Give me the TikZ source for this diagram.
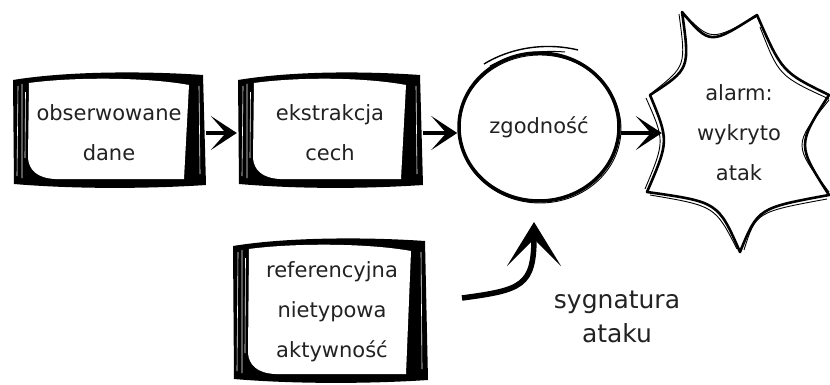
\documentclass[tikz,border=0pt]{standalone}
\usepackage{fontspec}
\setmainfont{DejaVu Sans}
\usetikzlibrary{arrows.meta,shapes.geometric}
\definecolor{txt}{HTML}{222222}
\newcommand{\sketchbox}[4]{%
  \fill[black] (#1,#2+8) .. controls (#1+55,#2-1) and (#3-60,#2-1) .. (#3-2,#2+3)
     -- (#3+1,#4-3) .. controls (#3-60,#4+1) and (#1+60,#4+1) .. (#1+1,#4-4) -- cycle;
  \fill[white] (#1+16,#2+11) .. controls (#1+60,#2+5) and (#3-60,#2+5) .. (#3-16,#2+13)
     -- (#3-21,#4-9) -- (#1+42,#4-9) .. controls (#1+24,#4-10) and (#1+16,#4-18) .. (#1+15,#4-30) -- cycle;
  \draw[white, line width=0.6pt] (#1+5,#2+14) -- (#1+4,#4-12) (#1+9,#2+12) -- (#1+9,#4-10)
     (#1+12.5,#2+20) -- (#1+12,#4-30) (#3-6,#2+14) -- (#3-5,#4-14);
}
\tikzset{
  lbl/.style={font=\fontsize{21}{40}\selectfont, text=txt, align=center, inner sep=0pt},
  conn/.style={draw=black, line width=3.4pt, -{Stealth[length=26pt,width=34pt,inset=15pt]}},
  bigconn/.style={draw=black, line width=5.5pt, -{Stealth[length=44pt,width=54pt,inset=27pt]}},
  thinstroke/.style={draw=black, line width=0.9pt},
}
\begin{document}
\begin{tikzpicture}[x=1pt,y=-1pt]
\fill[white] (0,0) rectangle (830,385);
\useasboundingbox (0,0) rectangle (830,385);

% boxes
\sketchbox{13}{72}{205}{188}
\sketchbox{238}{72}{422}{188}
\sketchbox{233}{238}{427}{383}

% starburst
\draw[line width=2.6pt, line join=round] (682,12) .. controls (710,45) .. (757,15)
  .. controls (782,72) .. (829,95) .. controls (797,145) .. (829,195)
  .. controls (758,208) .. (740,252) .. controls (718,202) .. (647,192)
  .. controls (669,141) .. (650,95) .. controls (690,69) .. cycle;
\draw[thinstroke] (684,14) .. controls (711,41) .. (756,17)
  (760,27) .. controls (779,76) .. (829,99)
  (829,100) .. controls (793,145) .. (829,192)
  (827,199) .. controls (756,212) .. (744,250)
  (737,249) .. controls (715,206) .. (650,195)
  (645,189) .. controls (665,141) .. (646,98)
  (653,92) .. controls (686,66) .. (679,14);

% nodes
\node[lbl, minimum width=194pt, minimum height=110pt] (obs) at (109,133) {obserwowane\\dane};
\node[lbl, minimum width=186pt, minimum height=110pt] (ext) at (330,133) {ekstrakcja\\cech};
\node[lbl, minimum width=190pt, minimum height=140pt] (ref) at (332,312) {referencyjna\\nietypowa\\aktywność};
\node[lbl, draw=black, line width=3.5pt, ellipse, minimum width=160pt, minimum height=148pt] (zg) at (539,127) {\raisebox{-5pt}{zgodność}};
\node[lbl, minimum width=154pt, minimum height=120pt] (alarm) at (739,133) {alarm:\\wykryto\\atak};
\node[lbl, font=\fontsize{25}{34}\selectfont] (sig) at (617,317) {sygnatura\\ataku};

% circle extra strokes
\draw[thinstroke, line width=1.4pt] (484,64) .. controls (510,48) and (545,42) .. (578,50);
\draw[thinstroke, line width=1pt] (490,66) .. controls (515,53) and (540,50) .. (565,52);
\draw[thinstroke] ([shift={(1,2)}]zg.center) ellipse [x radius=81pt, y radius=74pt];

% connectors
\draw[conn] (obs.east) -- (ext.west);
\draw[conn] (ext.east) -- (ext.east -| zg.west);
\draw[conn] (alarm.west -| zg.east) -- (alarm.west);
\coordinate (sigA) at (462,298);
\coordinate (sigB) at (534,222);
\draw[bigconn] (sigA) .. controls (522,290) and (534,286) .. (sigB);
\end{tikzpicture}
\end{document}
